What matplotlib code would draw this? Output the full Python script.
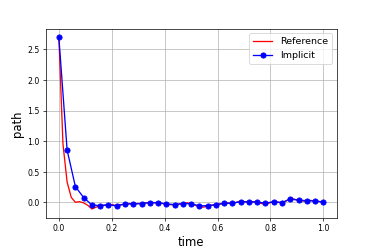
import matplotlib
matplotlib.use('Agg')
import matplotlib.pyplot as plt
import numpy as np

# reference path (fine grid, 1/64)
ref_t = np.linspace(0.0, 1.0, 65)
ref_x = [2.70, 0.95, 0.33, 0.08, 0.00, 0.01, -0.01, -0.05, -0.11, -0.08,
         -0.06, -0.05, -0.05, -0.04, -0.06, -0.04, -0.03, -0.02, -0.03, -0.02,
         -0.02, -0.01, 0.00, -0.01, -0.01, -0.02, -0.03, -0.04, -0.04, -0.03,
         -0.02, -0.01, -0.02, -0.05, -0.07, -0.08, -0.06, -0.05, -0.04, -0.03,
         -0.02, -0.01, -0.02, 0.00, 0.02, 0.01, 0.00, 0.01, 0.00, -0.02,
         -0.03, -0.01, 0.01, 0.00, -0.01, 0.02, 0.06, 0.05, 0.03, 0.02,
         0.02, 0.03, 0.02, 0.01, 0.01]

# implicit scheme (coarse grid, 1/32)
imp_t = np.linspace(0.0, 1.0, 33)
imp_x = [2.70, 0.854, 0.256, 0.077, -0.044, -0.055, -0.038, -0.060, -0.027,
         -0.027, -0.022, -0.005, -0.005, -0.027, -0.038, -0.022, -0.022,
         -0.060, -0.055, -0.038, -0.016, -0.016, 0.011, 0.005, 0.005,
         -0.016, 0.011, -0.005, 0.055, 0.033, 0.027, 0.022, 0.005]

fig = plt.figure(figsize=(6, 4), dpi=62.33)
ax = fig.add_axes([0.122, 0.126, 0.778, 0.758])
ax.plot(ref_t, ref_x, color='red', label='Reference')
ax.plot(imp_t, imp_x, color='blue', marker='o', label='Implicit')
ax.set_xlabel('time', fontsize=13.5)
ax.set_ylabel('path', fontsize=13.5)
ax.tick_params(labelsize=9)
ax.grid(True)
ax.legend(loc='upper right', fontsize=11)

fig.savefig('out.png', dpi=62.33)
